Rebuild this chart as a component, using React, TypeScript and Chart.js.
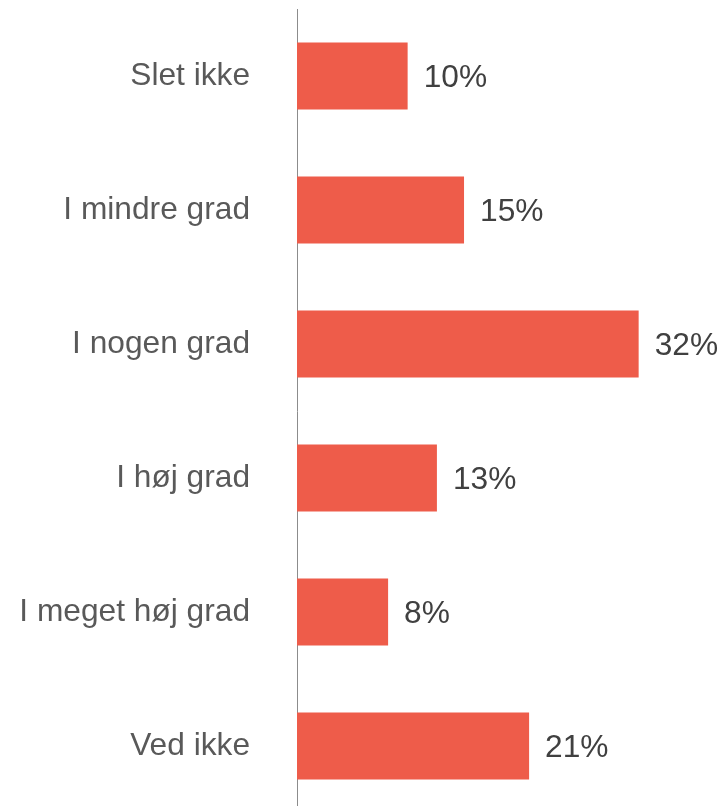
import React, { useEffect, useRef } from "react";
import { Chart, registerables } from "chart.js";

Chart.register(...registerables);

const categories = ["Slet ikke", "I mindre grad", "I nogen grad", "I høj grad", "I meget høj grad", "Ved ikke"];
const values = [10.2, 15.4, 31.5, 12.9, 8.4, 21.4];
const valueLabels = ["10%", "15%", "32%", "13%", "8%", "21%"];

const BAR_COLOR = "#EE5C4A";
const FONT = "'Liberation Sans', Arial, sans-serif";

const dataLabelPlugin = {
  id: "dataLabels",
  afterDatasetsDraw(chart: any) {
    const ctx = chart.ctx;
    const meta = chart.getDatasetMeta(0);
    ctx.save();
    ctx.font = `31.7px ${FONT}`;
    ctx.fillStyle = "#404040";
    ctx.textAlign = "left";
    ctx.textBaseline = "middle";
    meta.data.forEach((bar: any, i: number) => {
      ctx.fillText(valueLabels[i], bar.x + 16, bar.y + 2);
    });
    ctx.restore();
  },
};

export default function App() {
  const ref = useRef<HTMLCanvasElement | null>(null);
  useEffect(() => {
    if (!ref.current) return;
    const chart = new Chart(ref.current, {
      type: "bar",
      data: {
        labels: categories,
        datasets: [
          {
            data: values,
            backgroundColor: BAR_COLOR,
            borderWidth: 0,
            barPercentage: 0.5,
            categoryPercentage: 1,
          },
        ],
      },
      options: {
        indexAxis: "y",
        responsive: false,
        animation: false,
        layout: { padding: { top: 9, bottom: 1, right: 4, left: 0 } },
        plugins: { legend: { display: false }, tooltip: { enabled: false } },
        scales: {
          x: { display: false, min: 0, max: 39 },
          y: {
            afterFit: (scale: any) => {
              scale.width = 297;
              scale.paddingTop = 0;
              scale.paddingBottom = 0;
            },
            grid: { display: false, drawTicks: false },
            border: { display: true, color: "#8c8c8c", width: 1 },
            ticks: {
              padding: 47,
              color: "#595959",
              font: { size: 31.7, family: FONT },
            },
          },
        },
      },
      plugins: [dataLabelPlugin],
    });
    return () => chart.destroy();
  }, []);
  return (
    <div style={{ position: "fixed", left: 0, top: 0, width: 724, height: 814, background: "#fff" }}>
      <canvas ref={ref} width={724} height={814} />
    </div>
  );
}
